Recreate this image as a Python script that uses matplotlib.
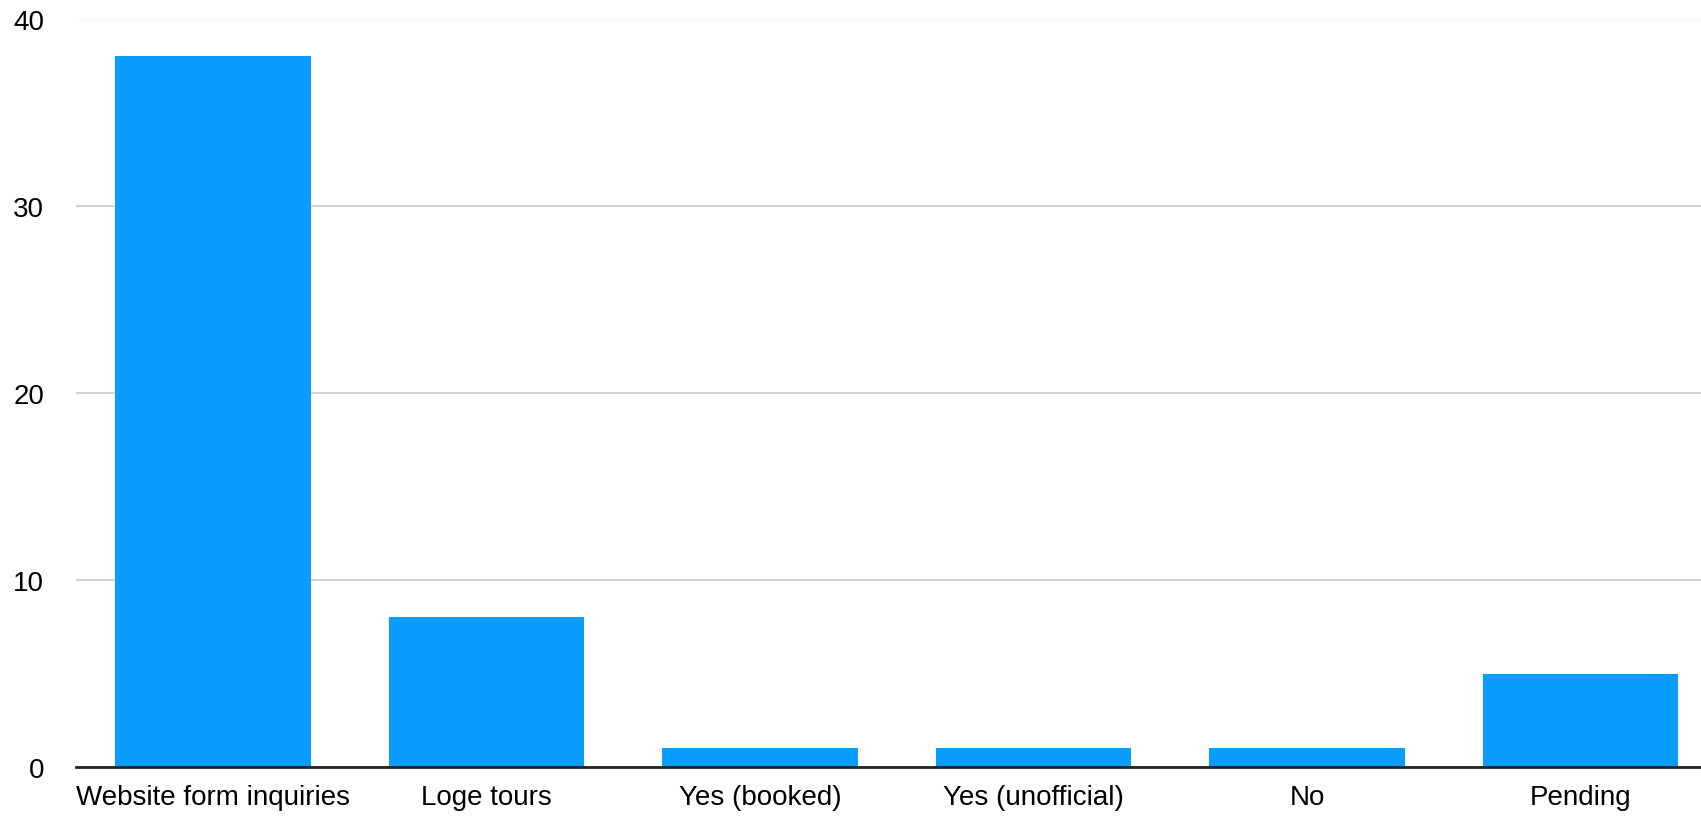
import matplotlib.pyplot as plt

categories = ['Website form inquiries', 'Loge tours', 'Yes (booked)',
              'Yes (unofficial)', 'No', 'Pending']
counts = [38, 8, 1, 1, 1, 5]
yticks = [0, 10, 20, 30, 40]

plt.rcParams['font.family'] = ['Liberation Sans', 'DejaVu Sans']

fig = plt.figure(figsize=(17.01, 8.2), dpi=100)
ax = fig.add_axes([0.0447, 0.0634, 0.9553, 0.9122])

x = range(len(categories))
ax.bar(x, counts, width=0.715, color='#0a9cff', zorder=2)
# the last category is slightly cut by the right edge in the original
ax.set_xlim(-0.5, 5.44)
ax.set_ylim(0, 40)
ax.set_yticks(yticks)
ax.set_xticks(list(x))
ax.set_xticklabels(categories, fontsize=20)
ax.tick_params(axis='y', length=0, pad=23, labelsize=20)
ax.tick_params(axis='x', length=0, pad=12)
ax.grid(axis='y', color='#cfcfcf', linewidth=1.3, zorder=0)
# top gridline is barely visible in the original
ax.get_ygridlines()[-1].set_color('#f4f4f4')
for s in ['top', 'right', 'left']:
    ax.spines[s].set_visible(False)
ax.spines['bottom'].set_linewidth(2)
ax.spines['bottom'].set_color('#222222')
ax.spines['bottom'].set_zorder(3)

plt.savefig('out.png', dpi=100)
